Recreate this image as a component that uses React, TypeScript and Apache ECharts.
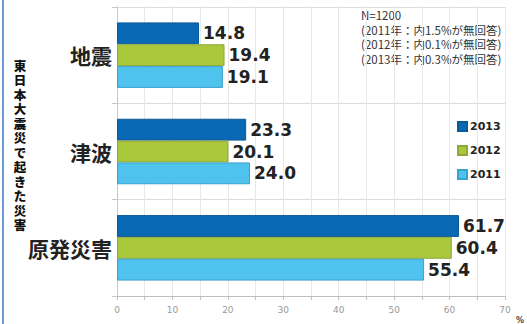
import React, { useEffect, useRef } from "react";
import * as echarts from "echarts";

const categories = ["地震", "津波", "原発災害"];
const years = ["2013", "2012", "2011"];
const values2013 = [14.8, 23.3, 61.7];
const values2012 = [19.4, 20.1, 60.4];
const values2011 = [19.1, 24.0, 55.4];
const xTicks = [0, 10, 20, 30, 40, 50, 60, 70];
const yAxisTitle = "東日本大震災で起きた災害";
const noteLines = [
  "N=1200",
  "(2011年：内1.5%が無回答)",
  "(2012年：内0.1%が無回答)",
  "(2013年：内0.3%が無回答)",
];

const colors = ["#0a69b5", "#a9c83c", "#4fc3ee"];
const borders = ["#0a5a98", "#8fa83a", "#3aa3cc"];

export default function App() {
  const ref = useRef<HTMLDivElement>(null);
  useEffect(() => {
    const chart = echarts.init(ref.current!, null, { renderer: "svg" });
    const seriesData = [values2013, values2012, values2011];
    const numFont = "DejaVu Sans";
    const cjk = "'Noto Sans CJK JP'";
    const titleChars = yAxisTitle.split("").map((ch, i) => ({
      type: "text",
      x: 20,
      y: 60 + i * 14.5,
      style: {
        text: ch,
        fontFamily: "'Liberation Sans', 'Noto Sans CJK JP'",
        fontWeight: 900,
        fontSize: 12.5,
        lineHeight: 13,
        fill: "#111",
        align: "center",
        verticalAlign: "top",
      },
    }));
    chart.setOption({
      animation: false,
      grid: { left: 117, right: 22, top: 7, bottom: 28, containLabel: false },
      legend: {
        orient: "vertical",
        left: 452,
        top: 116,
        itemWidth: 9,
        itemHeight: 9,
        itemGap: 13,
        icon: "rect",
        data: years,
        textStyle: { fontFamily: numFont, fontWeight: "bold", fontSize: 11, color: "#222", padding: [0, 0, 0, -2] },
      },
      xAxis: {
        type: "value",
        min: 0,
        max: 70,
        interval: 5,
        axisLine: { show: true, lineStyle: { color: "#c0c0c0" } },
        axisTick: { show: true, length: 4, lineStyle: { color: "#c0c0c0" } },
        splitLine: { show: true, lineStyle: { color: "#e8e8e8" } },
        axisLabel: {
          color: "#999",
          fontSize: 9,
          fontFamily: numFont,
          margin: 9,
          formatter: (v: number) => (xTicks.indexOf(v) >= 0 ? String(v) : ""),
        },
      },
      yAxis: {
        type: "category",
        data: categories,
        inverse: true,
        axisLine: { show: true, lineStyle: { color: "#c8c8c8" } },
        axisTick: { show: true, length: 5, lineStyle: { color: "#c8c8c8" } },
        splitLine: { show: true, lineStyle: { color: "#dcdcdc" } },
        axisLabel: {
          fontFamily: cjk,
          fontWeight: "bold",
          fontSize: 21,
          color: "#222",
          margin: 5,
        },
      },
      series: years.map((y, i) => ({
        name: y,
        type: "bar",
        data: seriesData[i],
        barGap: "0%",
        barCategoryGap: "32%",
        itemStyle: { color: colors[i], borderColor: borders[i], borderWidth: 1 },
        label: {
          show: true,
          position: "right",
          distance: 4,
          fontFamily: numFont,
          fontWeight: "bold",
          fontSize: 17,
          color: "#222",
          formatter: (p: any) => Number(p.value).toFixed(1),
        },
      })),
      graphic: [
        { type: "rect", shape: { x: 2, y: 0, width: 2, height: 324 }, style: { fill: "#6b9bd6" } },
        ...titleChars,
        {
          type: "text",
          x: 361,
          y: 8,
          style: {
            text: noteLines.join("\n"),
            fontFamily: cjk,
            fontSize: 11.5,
            lineHeight: 14.5,
            fill: "#333",
          },
        },
        {
          type: "text",
          x: 516,
          y: 316,
          style: { text: "%", fontFamily: numFont, fontWeight: "bold", fontSize: 8, fill: "#444" },
        },
      ],
    });
    return () => chart.dispose();
  }, []);
  return (
    <div
      ref={ref}
      style={{ position: "fixed", left: 0, top: 0, width: 527, height: 324, background: "#fff" }}
    />
  );
}
